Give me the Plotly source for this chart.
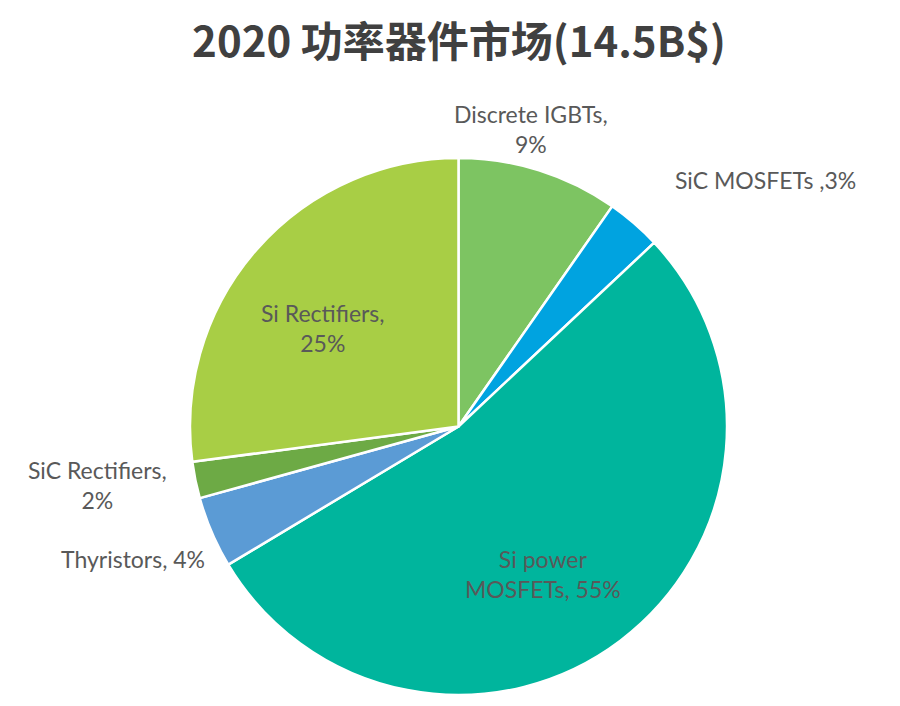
import plotly.graph_objects as go

# slices, clockwise from 12 o'clock
segments = ["Discrete IGBTs", "SiC MOSFETs", "Si power MOSFETs",
            "Thyristors", "SiC Rectifiers", "Si Rectifiers"]
# slice sizes (the printed labels differ a bit)
shares = [9.7, 3.3, 53.4, 4.3, 2.2, 27.1]
label_texts = ["Discrete IGBTs,<br>9%", "SiC MOSFETs ,3%", "Si power<br>MOSFETs, 55%",
               "Thyristors, 4%", "SiC Rectifiers,<br>2%", "Si Rectifiers,<br>25%"]
colors = ["#7DC462", "#00A3E0", "#00B59D", "#5B9BD5", "#6DAA45", "#A8CE45"]

W, H = 900, 706
OFF = 8  # page body margin of the browser


def px_x(v):
    return (v - OFF) / W


def px_y(v):
    return 1 - (v - OFF) / H


# label centres in pixels (x, y from top)
label_pos = [(531, 129), (765, 180), (543, 574), (133, 559), (97, 485), (323, 328)]

fig = go.Figure(go.Pie(
    labels=segments,
    values=shares,
    sort=False,
    direction="clockwise",
    rotation=0,
    marker=dict(colors=colors, line=dict(color="white", width=2.5)),
    textinfo="none",
    hoverinfo="label+percent",
    showlegend=False,
    domain=dict(x=[px_x(190), px_x(727)], y=[px_y(695), px_y(158)]),
))

for txt, (px, py) in zip(label_texts, label_pos):
    fig.add_annotation(
        x=px_x(px), y=px_y(py), xref="paper", yref="paper",
        text=txt, showarrow=False, xanchor="center", yanchor="middle",
        align="center",
        font=dict(family="Lato, DejaVu Sans, sans-serif", size=23, color="#595959"),
    )

fig.update_layout(
    width=W, height=H,
    margin=dict(l=0, r=0, t=0, b=0),
    paper_bgcolor="white", plot_bgcolor="white",
    title=dict(
        text="<b>2020 功率器件市场(14.5B$)</b>",
        x=px_x(459), y=px_y(42), xanchor="center", yanchor="middle",
        xref="paper", yref="container",
        font=dict(family="Noto Sans CJK SC", size=42, color="#404040"),
    ),
)

fig.write_html("out.html")
